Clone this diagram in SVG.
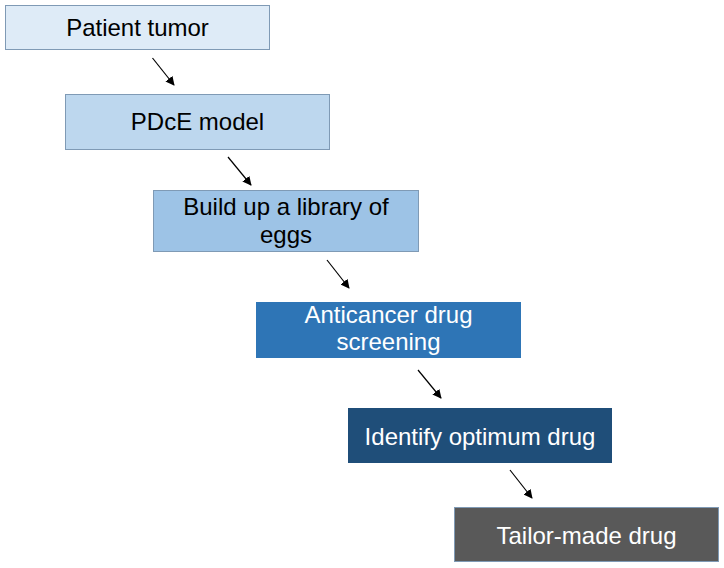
<svg xmlns="http://www.w3.org/2000/svg" width="724" height="568" viewBox="0 0 724 568">
<style>
.box{stroke:#7f9ab5;stroke-width:1}
.t{font-family:"Liberation Sans",Arial,sans-serif;font-size:24px;text-anchor:middle}
.dk{fill:#000}
.lt{fill:#fff}
.c{stroke:#000;stroke-width:1.2;fill:none}
</style>
<defs>
<marker id="ah" viewBox="0 0 10 10" refX="9" refY="5" markerWidth="9" markerHeight="9" markerUnits="userSpaceOnUse" orient="auto">
<path d="M0,0 L10,5 L0,10 z" fill="#000"/>
</marker>
</defs>
<rect width="724" height="568" fill="#fff"/>
<g id="n1"><rect class="box" x="5.5" y="5.5" width="264" height="44" fill="#deebf7"/><text class="t dk" x="137.5" y="35.5">Patient tumor</text></g>
<g id="n2"><rect class="box" x="65.5" y="94.5" width="264" height="55" fill="#bdd7ee"/><text class="t dk" x="197.5" y="130">PDcE model</text></g>
<g id="n3"><rect class="box" x="153.5" y="190.5" width="265" height="61" fill="#9dc3e6"/><text class="t dk" x="286" y="215">Build up a library of</text><text class="t dk" x="286" y="243">eggs</text></g>
<g id="n4"><rect x="256" y="302" width="265" height="56" fill="#2e75b6"/><text class="t lt" x="388.5" y="323">Anticancer drug</text><text class="t lt" x="388.5" y="350">screening</text></g>
<g id="n5"><rect x="348" y="408" width="264" height="55" fill="#1f4e79"/><text class="t lt" x="480" y="444.5">Identify optimum drug</text></g>
<g id="n6"><rect class="box" x="454.5" y="507.5" width="264" height="54" fill="#595959" stroke="#8a8a8a"/><text class="t lt" x="586.5" y="544">Tailor-made drug</text></g>
<g id="connectors">
<line class="c" x1="152.5" y1="58" x2="174" y2="85" marker-end="url(#ah)"/>
<line class="c" x1="228" y1="157" x2="251" y2="185" marker-end="url(#ah)"/>
<line class="c" x1="327" y1="260" x2="349" y2="288" marker-end="url(#ah)"/>
<line class="c" x1="418" y1="370" x2="441" y2="398" marker-end="url(#ah)"/>
<line class="c" x1="510" y1="470" x2="532" y2="498" marker-end="url(#ah)"/>
</g>
</svg>
